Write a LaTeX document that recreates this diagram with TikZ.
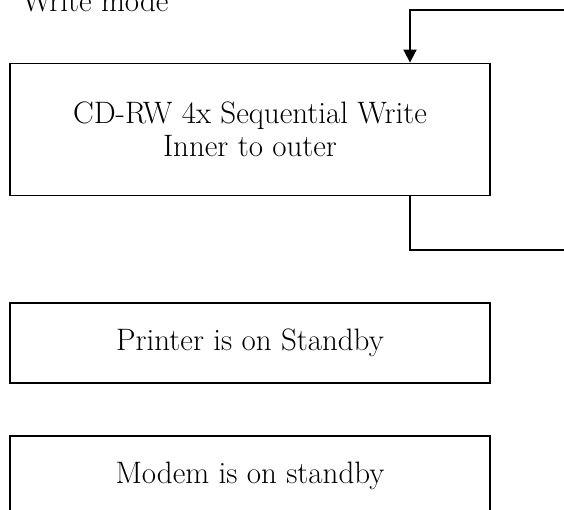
\documentclass[tikz,border=0pt]{standalone}
\usetikzlibrary{arrows.meta}
\tikzset{
  statebox/.style={draw, line width=1.8pt, minimum width=480pt, align=center,
    font=\fontsize{31}{33}\selectfont},
  loopline/.style={line width=1.8pt}
}
\begin{document}
\begin{tikzpicture}[x=1pt,y=1pt]
      \useasboundingbox (0,0) rectangle (564,510);
      \node[anchor=base west, inner sep=0pt, font=\fontsize{31}{33}\selectfont] (mode) at (22,498) {Write mode};
      \node[statebox, minimum height=132pt] (write) at (250,380.5)
        {CD-RW 4x Sequential Write\\Inner to outer};
      \node[statebox, minimum height=80pt] (printer) at (250,167.3) {Printer is on Standby};
      \node[statebox, minimum height=80pt] (modem) at (250,34.3) {Modem is on standby};
      \coordinate (loopin) at (570,500);
      \coordinate (loopout) at (570,260);
      \begin{scope}[loopline]
        \draw[-{Triangle[length=13pt,width=13pt]}] (loopin) -| ([xshift=160pt]write.north);
        \draw ([xshift=160pt]write.south) |- (loopout);
      \end{scope}
    \end{tikzpicture}
\end{document}
